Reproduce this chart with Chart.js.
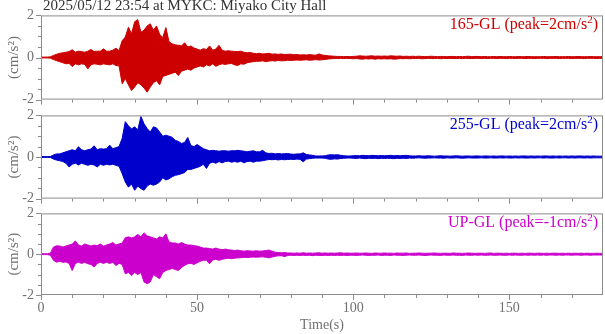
<!DOCTYPE html>
<html>
<head>
<meta charset="utf-8">
<script src="https://cdn.jsdelivr.net/npm/chart.js@4"></script>
<style>
  body { margin: 0; width: 605px; height: 334px; background: #fff; position: relative; overflow: hidden; }
  canvas { position: absolute; left: 0; }
</style>
</head>
<body>
<canvas id="p1" width="605" height="115" style="top:0px"></canvas>
<canvas id="p2" width="605" height="114" style="top:100px"></canvas>
<canvas id="p3" width="605" height="136" style="top:198px"></canvas>
<script>
// one envelope value per second (0..180 s), upper and lower peaks
const seconds = Array.from({ length: 181 }, (_, i) => i);

const xTicks = [0, 50, 100, 150];
const xMinorTicks = [10, 20, 30, 40, 60, 70, 80, 90, 110, 120, 130, 140, 160, 170];
const yTicks = [-2, 0, 2];
const yMinorTicks = [-1.5, -1, -0.5, 0.5, 1, 1.5];

const redUp = [
  0.02,0.02,0.02,0.03,0.10,0.15,0.20,0.22,0.25,0.28,
  0.37,0.25,0.30,0.28,0.25,0.30,0.38,0.28,0.30,0.30,
  0.41,0.30,0.30,0.35,0.44,0.33,0.80,0.97,1.44,1.13,
  1.70,1.80,1.20,1.30,1.50,1.60,1.30,1.50,1.10,0.95,
  1.42,0.75,0.65,0.60,0.58,0.55,0.70,0.50,0.55,0.45,
  0.40,0.35,0.42,0.38,0.55,0.35,0.40,0.58,0.35,0.30,
  0.32,0.30,0.29,0.28,0.30,0.25,0.22,0.24,0.20,0.18,
  0.20,0.17,0.18,0.20,0.16,0.17,0.15,0.17,0.14,0.15,
  0.16,0.13,0.14,0.12,0.13,0.12,0.14,0.12,0.11,0.17,
  0.12,0.10,0.08,0.07,0.06,0.05,0.05,0.04,0.05,0.04,
  0.05,0.06,0.08,0.07,0.06,0.07,0.08,0.06,0.07,0.06,
  0.07,0.06,0.08,0.07,0.06,0.07,0.05,0.06,0.05,0.06,
  0.05,0.06,0.05,0.04,0.05,0.06,0.05,0.04,0.05,0.05,
  0.04,0.05,0.05,0.04,0.05,0.04,0.05,0.06,0.04,0.05,
  0.05,0.04,0.05,0.04,0.04,0.05,0.04,0.05,0.04,0.04,
  0.05,0.04,0.04,0.05,0.04,0.04,0.05,0.04,0.04,0.04,
  0.04,0.05,0.04,0.04,0.04,0.05,0.04,0.04,0.04,0.05,
  0.04,0.04,0.05,0.04,0.04,0.04,0.05,0.04,0.04,0.04,0.04
];
const redDown = [
  -0.02,-0.02,-0.02,-0.03,-0.10,-0.15,-0.20,-0.25,-0.30,-0.28,
  -0.43,-0.30,-0.35,-0.30,-0.33,-0.54,-0.35,-0.30,-0.32,-0.35,
  -0.30,-0.33,-0.35,-0.30,-0.38,-0.40,-1.25,-1.00,-1.30,-1.57,
  -1.40,-1.20,-1.30,-1.45,-1.65,-1.40,-1.20,-1.10,-1.30,-0.90,
  -0.85,-0.80,-0.75,-0.70,-0.86,-0.65,-0.60,-0.55,-0.60,-0.50,
  -0.45,-0.40,-0.45,-0.35,-0.40,-0.30,-0.42,-0.35,-0.30,-0.33,
  -0.30,-0.28,-0.35,-0.38,-0.30,-0.32,-0.25,-0.22,-0.20,-0.18,
  -0.18,-0.16,-0.20,-0.17,-0.15,-0.17,-0.14,-0.16,-0.15,-0.13,
  -0.14,-0.13,-0.12,-0.13,-0.12,-0.11,-0.13,-0.12,-0.10,-0.12,
  -0.11,-0.09,-0.07,-0.06,-0.05,-0.05,-0.04,-0.05,-0.04,-0.05,
  -0.06,-0.05,-0.07,-0.08,-0.06,-0.07,-0.06,-0.08,-0.06,-0.07,
  -0.06,-0.07,-0.06,-0.08,-0.07,-0.05,-0.06,-0.05,-0.06,-0.05,
  -0.05,-0.04,-0.06,-0.05,-0.04,-0.05,-0.05,-0.04,-0.06,-0.04,
  -0.05,-0.04,-0.05,-0.05,-0.04,-0.05,-0.04,-0.05,-0.05,-0.04,
  -0.04,-0.05,-0.04,-0.05,-0.04,-0.04,-0.05,-0.04,-0.04,-0.05,
  -0.04,-0.04,-0.05,-0.04,-0.04,-0.05,-0.04,-0.04,-0.05,-0.04,
  -0.04,-0.04,-0.05,-0.04,-0.04,-0.04,-0.05,-0.04,-0.04,-0.04,
  -0.05,-0.04,-0.04,-0.04,-0.05,-0.04,-0.04,-0.04,-0.05,-0.04,-0.04
];

const blueUp = [
  0.02,0.02,0.02,0.02,0.10,0.15,0.15,0.20,0.25,0.30,
  0.35,0.30,0.49,0.35,0.30,0.35,0.38,0.54,0.35,0.40,
  0.38,0.40,0.57,0.40,0.45,0.50,0.90,1.70,1.50,1.35,
  1.45,1.30,1.95,1.60,1.37,1.20,1.45,1.40,1.20,1.00,
  1.05,1.00,0.95,0.80,0.75,0.65,0.70,0.94,0.55,0.50,
  0.60,0.50,0.40,0.35,0.30,0.32,0.30,0.28,0.30,0.30,
  0.28,0.30,0.30,0.32,0.30,0.28,0.25,0.28,0.30,0.25,
  0.25,0.32,0.20,0.17,0.18,0.15,0.17,0.15,0.16,0.17,
  0.14,0.13,0.15,0.15,0.20,0.12,0.10,0.08,0.05,0.05,
  0.05,0.06,0.10,0.11,0.10,0.11,0.08,0.06,0.05,0.05,
  0.06,0.07,0.06,0.08,0.07,0.06,0.08,0.07,0.06,0.07,
  0.06,0.07,0.08,0.06,0.07,0.06,0.07,0.08,0.06,0.05,
  0.05,0.06,0.05,0.05,0.06,0.05,0.04,0.05,0.06,0.05,
  0.05,0.04,0.05,0.06,0.05,0.04,0.05,0.05,0.04,0.05,
  0.05,0.04,0.05,0.05,0.04,0.05,0.04,0.05,0.05,0.04,
  0.05,0.04,0.05,0.04,0.05,0.05,0.04,0.05,0.04,0.05,
  0.04,0.05,0.05,0.04,0.05,0.04,0.05,0.04,0.05,0.04,
  0.05,0.04,0.05,0.05,0.04,0.05,0.04,0.05,0.04,0.04,0.04
];
const blueDown = [
  -0.02,-0.02,-0.02,-0.02,-0.10,-0.15,-0.18,-0.22,-0.30,-0.48,
  -0.35,-0.30,-0.38,-0.30,-0.35,-0.40,-0.35,-0.38,-0.48,-0.35,
  -0.40,-0.35,-0.38,-0.35,-0.40,-0.45,-0.80,-1.20,-1.45,-1.30,
  -1.60,-1.40,-1.52,-1.60,-1.40,-1.30,-1.36,-1.30,-1.20,-1.00,
  -1.10,-1.05,-0.95,-0.88,-0.85,-0.80,-0.75,-0.60,-0.60,-0.55,
  -0.50,-0.45,-0.35,-0.55,-0.30,-0.25,-0.30,-0.22,-0.28,-0.22,
  -0.20,-0.25,-0.22,-0.25,-0.20,-0.28,-0.22,-0.20,-0.25,-0.20,
  -0.20,-0.18,-0.15,-0.12,-0.13,-0.12,-0.14,-0.12,-0.13,-0.12,
  -0.11,-0.12,-0.10,-0.12,-0.23,-0.10,-0.08,-0.06,-0.05,-0.05,
  -0.05,-0.06,-0.10,-0.11,-0.09,-0.10,-0.07,-0.06,-0.05,-0.05,
  -0.06,-0.07,-0.05,-0.07,-0.08,-0.06,-0.07,-0.06,-0.08,-0.06,
  -0.07,-0.06,-0.07,-0.08,-0.06,-0.07,-0.06,-0.07,-0.05,-0.06,
  -0.05,-0.04,-0.05,-0.06,-0.05,-0.05,-0.04,-0.05,-0.05,-0.06,
  -0.04,-0.05,-0.05,-0.04,-0.05,-0.06,-0.05,-0.04,-0.05,-0.05,
  -0.05,-0.04,-0.05,-0.05,-0.04,-0.05,-0.05,-0.04,-0.05,-0.04,
  -0.05,-0.05,-0.04,-0.05,-0.04,-0.05,-0.05,-0.04,-0.05,-0.04,
  -0.04,-0.05,-0.04,-0.05,-0.05,-0.04,-0.05,-0.04,-0.04,-0.05,
  -0.04,-0.05,-0.04,-0.04,-0.05,-0.04,-0.05,-0.04,-0.04,-0.04,-0.04
];

const magUp = [
  0.02,0.02,0.02,0.05,0.35,0.41,0.40,0.35,0.40,0.45,
  0.50,0.65,0.45,0.40,0.50,0.45,0.40,0.45,0.42,0.50,
  0.40,0.45,0.50,0.57,0.45,0.50,0.55,0.81,0.85,0.80,
  0.85,0.97,0.85,1.05,0.90,0.85,0.80,0.75,0.85,0.80,
  1.00,0.60,0.55,0.55,0.50,0.57,0.50,0.45,0.45,0.42,
  0.40,0.35,0.30,0.30,0.28,0.25,0.30,0.25,0.22,0.25,
  0.22,0.20,0.18,0.20,0.17,0.15,0.17,0.16,0.15,0.17,
  0.15,0.16,0.18,0.20,0.15,0.10,0.08,0.07,0.08,0.06,
  0.06,0.05,0.06,0.05,0.07,0.05,0.06,0.05,0.06,0.07,
  0.05,0.06,0.05,0.06,0.05,0.06,0.07,0.05,0.06,0.05,
  0.05,0.06,0.05,0.05,0.06,0.05,0.04,0.06,0.05,0.05,
  0.06,0.05,0.05,0.04,0.06,0.05,0.05,0.06,0.04,0.05,
  0.05,0.06,0.05,0.04,0.05,0.05,0.06,0.05,0.04,0.05,
  0.05,0.04,0.06,0.05,0.05,0.04,0.05,0.06,0.05,0.04,
  0.05,0.05,0.04,0.05,0.06,0.04,0.05,0.05,0.04,0.05,
  0.04,0.05,0.05,0.04,0.05,0.04,0.05,0.05,0.04,0.05,
  0.05,0.04,0.05,0.04,0.05,0.05,0.04,0.05,0.04,0.05,
  0.04,0.05,0.04,0.05,0.04,0.05,0.04,0.04,0.05,0.04,0.04
];
const magDown = [
  -0.02,-0.02,-0.02,-0.05,-0.30,-0.39,-0.35,-0.40,-0.38,-0.45,
  -0.80,-0.45,-0.40,-0.45,-0.40,-0.47,-0.50,-0.63,-0.45,-0.40,
  -0.45,-0.40,-0.45,-0.40,-0.55,-0.45,-0.50,-0.96,-0.90,-1.05,
  -0.90,-1.00,-0.90,-1.36,-1.45,-1.36,-1.00,-1.10,-1.20,-0.90,
  -0.80,-0.75,-0.70,-0.75,-0.80,-0.65,-0.55,-0.47,-0.45,-0.50,
  -0.42,-0.35,-0.30,-0.30,-0.47,-0.28,-0.25,-0.30,-0.25,-0.22,
  -0.20,-0.22,-0.20,-0.18,-0.17,-0.15,-0.16,-0.15,-0.14,-0.15,
  -0.14,-0.13,-0.15,-0.18,-0.14,-0.10,-0.08,-0.07,-0.12,-0.06,
  -0.05,-0.06,-0.05,-0.06,-0.05,-0.06,-0.05,-0.07,-0.05,-0.06,
  -0.06,-0.05,-0.06,-0.05,-0.06,-0.05,-0.06,-0.05,-0.06,-0.05,
  -0.05,-0.06,-0.05,-0.04,-0.05,-0.06,-0.05,-0.05,-0.04,-0.06,
  -0.05,-0.05,-0.06,-0.04,-0.05,-0.05,-0.06,-0.05,-0.04,-0.05,
  -0.05,-0.04,-0.05,-0.06,-0.05,-0.04,-0.05,-0.05,-0.06,-0.04,
  -0.05,-0.05,-0.04,-0.05,-0.05,-0.06,-0.04,-0.05,-0.05,-0.04,
  -0.05,-0.04,-0.05,-0.05,-0.04,-0.05,-0.05,-0.04,-0.05,-0.05,
  -0.04,-0.05,-0.04,-0.05,-0.05,-0.04,-0.05,-0.04,-0.05,-0.04,
  -0.05,-0.04,-0.05,-0.04,-0.04,-0.05,-0.04,-0.05,-0.04,-0.04,
  -0.05,-0.04,-0.04,-0.05,-0.04,-0.04,-0.05,-0.04,-0.04,-0.04,-0.04
];

const title = '2025/05/12 23:54 at MYKC: Miyako City Hall';
const FONT = '"Liberation Serif", "Times New Roman", serif';
const GREY = '#707070';
Chart.defaults.font.family = FONT;

const toPoints = arr => seconds.map((t, i) => ({ x: t, y: arr[i] }));

const framePlugin = {
  id: 'frame',
  afterDraw(chart, args, o) {
    const { ctx, chartArea: a, scales: { x, y } } = chart;
    ctx.save();
    ctx.strokeStyle = '#8c8c8c';
    ctx.lineWidth = 1;
    ctx.strokeRect(a.left + 0.5, a.top + 0.5, a.right - a.left - 1, a.bottom - a.top - 1);
    ctx.beginPath();
    const xt = (v, len) => {
      const px = Math.round(x.getPixelForValue(v)) + 0.5;
      ctx.moveTo(px, a.bottom); ctx.lineTo(px, a.bottom + len);
    };
    const yt = (v, len) => {
      const py = Math.round(y.getPixelForValue(v)) + 0.5;
      ctx.moveTo(a.left - len, py); ctx.lineTo(a.left, py);
    };
    xTicks.forEach(v => xt(v, 5));
    xMinorTicks.forEach(v => xt(v, 3));
    yTicks.forEach(v => yt(v, 5));
    yMinorTicks.forEach(v => yt(v, 3));
    ctx.stroke();

    // component label with superscript
    const big = '16px ' + FONT, small = '11px ' + FONT;
    const main = o.name + ' (peak=' + o.peak + 'cm/s';
    ctx.font = big;
    const w1 = ctx.measureText(main).width, w3 = ctx.measureText(')').width;
    ctx.font = small;
    const w2 = ctx.measureText('2').width;
    let sx = a.right - 5 - (w1 + w2 + w3);
    const by = a.top + 14;
    ctx.fillStyle = o.color;
    ctx.textBaseline = 'alphabetic';
    ctx.font = big; ctx.fillText(main, sx, by); sx += w1;
    ctx.font = small; ctx.fillText('2', sx, by - 6); sx += w2;
    ctx.font = big; ctx.fillText(')', sx, by);

    if (o.title) {
      ctx.fillStyle = '#333';
      ctx.font = '15px ' + FONT;
      ctx.fillText(o.title, a.left + 2, 10);
    }
    ctx.restore();
  }
};

function panel(id, up, down, color, name, peak, pad, bottomAxis, withTitle) {
  const xScale = {
    type: 'linear', min: 0, max: 180, display: bottomAxis,
    grid: { display: false, drawTicks: false }, border: { display: false },
    afterBuildTicks: s => { s.ticks = xTicks.map(v => ({ value: v })); },
    ticks: { color: GREY, font: { size: 14 }, padding: 5, maxRotation: 0, callback: v => String(v) },
    title: { display: true, text: 'Time(s)', color: GREY, font: { size: 14 }, padding: { top: 0, bottom: 0 } }
  };
  if (bottomAxis) xScale.afterFit = s => { s.height = 39; };
  return new Chart(document.getElementById(id), {
    type: 'line',
    data: {
      datasets: [
        { data: toPoints(up), borderColor: color, backgroundColor: color, borderWidth: 1, pointRadius: 0, tension: 0, fill: '+1' },
        { data: toPoints(down), borderColor: color, backgroundColor: color, borderWidth: 1, pointRadius: 0, tension: 0, fill: false }
      ]
    },
    options: {
      responsive: false, animation: false, devicePixelRatio: 1, parsing: false, normalized: true,
      layout: { padding: pad },
      plugins: {
        legend: { display: false }, tooltip: { enabled: false },
        frame: { color, name, peak, title: withTitle ? title : null }
      },
      scales: {
        x: xScale,
        y: {
          min: -2, max: 2,
          grid: { display: false, drawTicks: false }, border: { display: false },
          afterBuildTicks: s => { s.ticks = yTicks.map(v => ({ value: v })); },
          afterFit: s => { s.width = 41; },
          ticks: { color: GREY, font: { size: 14 }, padding: 7, callback: v => String(v) },
          title: { display: true, text: '(cm/s²)', color: GREY, font: { size: 15 }, padding: { top: 5, bottom: 0 } }
        }
      }
    },
    plugins: [framePlugin]
  });
}

panel('p1', redUp, redDown, '#cc0000', '165-GL', '2', { top: 15, bottom: 11, left: 0, right: 2 }, false, true);
panel('p2', blueUp, blueDown, '#0000cc', '255-GL', '2', { top: 14, bottom: 13, left: 0, right: 2 }, false, false);
panel('p3', magUp, magDown, '#cc00cc', 'UP-GL', '-1', { top: 14, bottom: 0, left: 0, right: 2 }, true, false);
</script>
</body>
</html>
